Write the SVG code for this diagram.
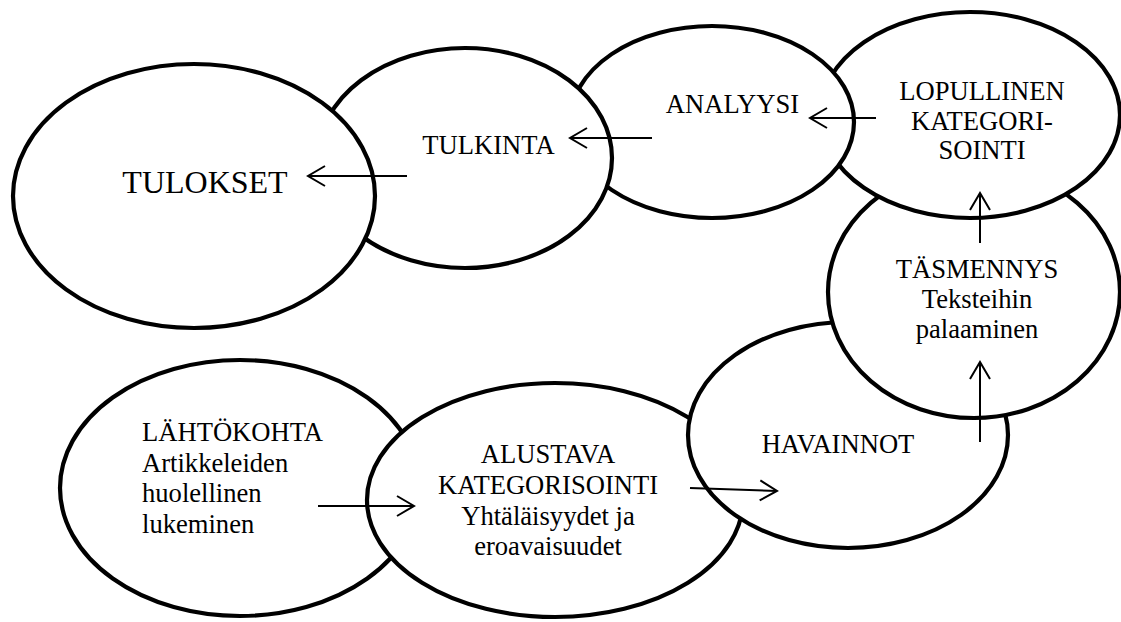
<svg xmlns="http://www.w3.org/2000/svg" width="1121" height="622" viewBox="0 0 1121 622">
  <defs>
    <style>
      .node ellipse { fill: #ffffff; stroke: #000000; stroke-width: 4.2; }
      .conn line { stroke: #000000; stroke-width: 2; marker-end: url(#arr); }
    </style>
    <marker id="arr" markerUnits="userSpaceOnUse" viewBox="-20 -12 22 24" refX="0" refY="0" markerWidth="22" markerHeight="24" orient="auto" overflow="visible">
      <path d="M-17,-10 L0,0 L-17,10" fill="none" stroke="#000000" stroke-width="2"/>
    </marker>
  </defs>
  <rect x="0" y="0" width="1121" height="622" fill="#ffffff"/>

  <g id="lahtokohta" class="node">
    <ellipse cx="240" cy="488" rx="180" ry="128"/>
    <text font-family="Liberation Serif" font-size="26.6" x="142" y="441">L&#196;HT&#214;KOHTA</text>
    <text font-family="Liberation Serif" font-size="26.6" x="142" y="471.5">Artikkeleiden</text>
    <text font-family="Liberation Serif" font-size="26.6" x="142" y="502">huolellinen</text>
    <text font-family="Liberation Serif" font-size="26.6" x="142" y="532.5">lukeminen</text>
  </g>

  <g id="alustava" class="node">
    <ellipse cx="555" cy="500" rx="188" ry="117"/>
    <text font-family="Liberation Serif" font-size="26.6" text-anchor="middle" x="548" y="463">ALUSTAVA</text>
    <text font-family="Liberation Serif" font-size="26.6" text-anchor="middle" x="548" y="494">KATEGORISOINTI</text>
    <text font-family="Liberation Serif" font-size="26.6" text-anchor="middle" x="548" y="524.5">Yht&#228;l&#228;isyydet ja</text>
    <text font-family="Liberation Serif" font-size="26.6" text-anchor="middle" x="548" y="555">eroavaisuudet</text>
  </g>

  <g id="havainnot" class="node">
    <ellipse cx="848" cy="435" rx="160" ry="113"/>
    <text font-family="Liberation Serif" font-size="26.6" text-anchor="middle" x="838" y="453">HAVAINNOT</text>
  </g>

  <g id="tasmennys" class="node">
    <ellipse cx="974" cy="292" rx="146" ry="126"/>
    <text font-family="Liberation Serif" font-size="26.6" text-anchor="middle" x="977" y="278">T&#196;SMENNYS</text>
    <text font-family="Liberation Serif" font-size="26.6" text-anchor="middle" x="977" y="308">Teksteihin</text>
    <text font-family="Liberation Serif" font-size="26.6" text-anchor="middle" x="977" y="338">palaaminen</text>
  </g>

  <g id="lopullinen" class="node">
    <ellipse cx="970" cy="115" rx="150" ry="103"/>
    <text font-family="Liberation Serif" font-size="26.6" text-anchor="middle" x="982" y="100">LOPULLINEN</text>
    <text font-family="Liberation Serif" font-size="26.6" text-anchor="middle" x="982" y="130">KATEGORI-</text>
    <text font-family="Liberation Serif" font-size="26.6" text-anchor="middle" x="982" y="159">SOINTI</text>
  </g>

  <g id="analyysi" class="node">
    <ellipse cx="712" cy="122" rx="142" ry="96"/>
    <text font-family="Liberation Serif" font-size="26.6" text-anchor="middle" x="732.5" y="113">ANALYYSI</text>
  </g>

  <g id="tulkinta" class="node">
    <ellipse cx="465" cy="158" rx="147" ry="110"/>
    <text font-family="Liberation Serif" font-size="26.6" text-anchor="middle" x="488.5" y="154">TULKINTA</text>
  </g>

  <g id="tulokset" class="node">
    <ellipse cx="194" cy="196" rx="181" ry="132"/>
    <text font-family="Liberation Serif" font-size="32" text-anchor="middle" x="205" y="193">TULOKSET</text>
  </g>

  <g id="connectors" class="conn">
    <line x1="318" y1="506" x2="414" y2="506"/>
    <line x1="690" y1="488" x2="777" y2="491"/>
    <line x1="980" y1="442" x2="980" y2="362"/>
    <line x1="980" y1="243" x2="980" y2="193"/>
    <line x1="876" y1="118" x2="810" y2="118"/>
    <line x1="652" y1="138" x2="570" y2="138"/>
    <line x1="407" y1="176" x2="308" y2="176"/>
  </g>
</svg>
